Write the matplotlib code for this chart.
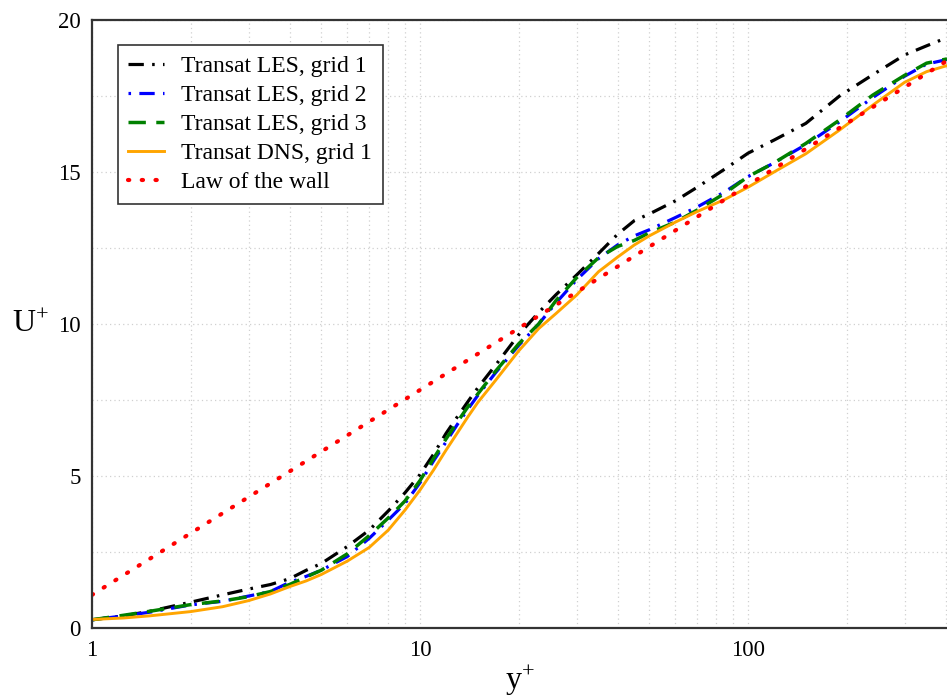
import matplotlib
matplotlib.use("Agg")
import matplotlib.pyplot as plt
from matplotlib.ticker import FixedLocator, LogLocator, MultipleLocator, NullFormatter

plt.rcParams["font.family"] = ["Liberation Serif", "DejaVu Serif"]
plt.rcParams["mathtext.fontset"] = "custom"
plt.rcParams["mathtext.rm"] = "Liberation Serif"
plt.rcParams["mathtext.it"] = "Liberation Serif:italic"

# Wall-normal coordinate y+ (shared by all profiles)
y_plus = [1, 1.25, 1.5, 2, 2.5, 3, 3.5, 4, 4.5, 5, 6, 7, 8, 9, 10, 11, 12, 13, 14,
          15, 17, 20, 23, 26, 30, 35, 40, 45, 50, 60, 70, 85, 100, 120, 150, 190,
          240, 300, 350, 404]

# Mean velocity profiles U+
les_grid1 = [0.27, 0.40, 0.55, 0.85, 1.09, 1.28, 1.43, 1.62, 1.90, 2.12, 2.68, 3.22,
             3.85, 4.45, 5.05, 5.72, 6.40, 6.95, 7.45, 7.90, 8.65, 9.65, 10.38, 10.97,
             11.61, 12.32, 12.95, 13.40, 13.62, 14.05, 14.50, 15.10, 15.62, 16.05,
             16.60, 17.50, 18.20, 18.85, 19.15, 19.42]
les_grid2 = [0.27, 0.40, 0.52, 0.76, 0.88, 1.05, 1.20, 1.50, 1.70, 1.90, 2.35, 2.95,
             3.55, 4.10, 4.78, 5.50, 6.12, 6.70, 7.20, 7.65, 8.40, 9.30, 10.00, 10.70,
             11.45, 12.15, 12.60, 12.90, 13.10, 13.50, 13.85, 14.35, 14.85, 15.30,
             15.90, 16.65, 17.45, 18.15, 18.55, 18.70]
les_grid3 = [0.27, 0.42, 0.55, 0.77, 0.89, 1.03, 1.20, 1.43, 1.68, 1.90, 2.44, 3.04,
             3.62, 4.18, 4.85, 5.58, 6.22, 6.78, 7.28, 7.70, 8.45, 9.35, 10.00, 10.78,
             11.52, 12.18, 12.55, 12.75, 13.00, 13.35, 13.75, 14.30, 14.85, 15.30,
             15.94, 16.71, 17.53, 18.18, 18.58, 18.72]
dns_grid1 = [0.28, 0.33, 0.40, 0.54, 0.70, 0.90, 1.12, 1.36, 1.55, 1.76, 2.20, 2.65,
             3.22, 3.88, 4.54, 5.20, 5.85, 6.42, 6.95, 7.42, 8.15, 9.12, 9.85, 10.35,
             10.95, 11.72, 12.20, 12.60, 12.90, 13.35, 13.70, 14.10, 14.50, 15.00,
             15.60, 16.38, 17.20, 17.95, 18.30, 18.50]

# Log law reference line (straight on a log axis)
wall_y_plus = [1, 404]
wall_u_plus = [1.09, 18.66]

fig = plt.figure(figsize=(9.47, 7.0), dpi=100)
ax = fig.add_axes([92 / 947, 72 / 700, 1 - 92 / 947, 608 / 700])

ax.plot(y_plus, les_grid1, color="black", lw=2.3, dashes=(4.8, 2.6, 0.8, 2.6),
        label="Transat LES, grid 1")
ax.plot(y_plus, les_grid2, color="blue", lw=2.3, dashes=(0.8, 2.6, 4.8, 2.6),
        label="Transat LES, grid 2")
ax.plot(y_plus, les_grid3, color="green", lw=2.5, dashes=(5.0, 3.0),
        label="Transat LES, grid 3")
ax.plot(y_plus, dns_grid1, color="orange", lw=2.1, label="Transat DNS, grid 1")
ax.plot(wall_y_plus, wall_u_plus, color="red", lw=3.0, dashes=(0.3, 3.0),
        dash_capstyle="round", label="Law of the wall")

ax.set_xscale("log")
ax.set_xlim(1, 404)
ax.set_ylim(0, 20)

ax.xaxis.set_major_locator(FixedLocator([1, 10, 100]))
ax.set_xticklabels(["1", "10", "100"])
ax.xaxis.set_minor_locator(LogLocator(base=10, subs=range(2, 10), numticks=20))
ax.xaxis.set_minor_formatter(NullFormatter())
ax.yaxis.set_major_locator(FixedLocator([0, 5, 10, 15, 20]))
ax.yaxis.set_minor_locator(MultipleLocator(2.5))

ax.grid(True, which="both", color="#d0d0d0", lw=0.9, linestyle=(0, (1, 2.5)))
ax.set_axisbelow(True)
ax.tick_params(which="both", length=0, labelsize=16.5, colors="black")
ax.tick_params(axis="x", pad=9)
ax.tick_params(axis="y", pad=8)

for side in ("left", "bottom", "top"):
    ax.spines[side].set_color("#333333")
    ax.spines[side].set_linewidth(1.6)
ax.spines["right"].set_visible(False)

ax.set_xlabel(r"y$^{+}$", fontsize=23, labelpad=2)
ax.set_ylabel(r"U$^{+}$", fontsize=23, rotation=0, labelpad=20, va="center")

leg = ax.legend(loc="upper left", bbox_to_anchor=(0.030, 0.959), borderaxespad=0,
                fontsize=17, handlelength=1.5, handletextpad=0.75, borderpad=0.45,
                labelspacing=0.32, fancybox=False, framealpha=1)
leg.get_frame().set_edgecolor("#333333")
leg.get_frame().set_linewidth(1.2)

fig.savefig("out.png", dpi=100)
